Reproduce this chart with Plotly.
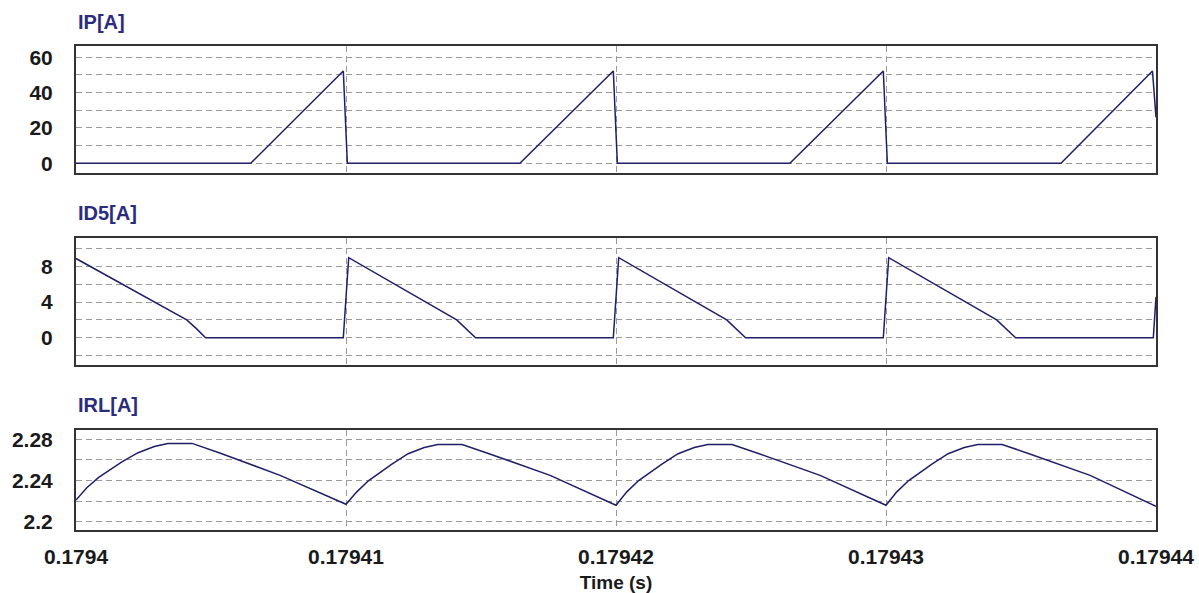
import plotly.graph_objects as go

# ---- waveform data (time in s, current in A) ----
ip_t = [0.1794, 0.17940647, 0.17940990, 0.17941005,
        0.17941644, 0.17941990, 0.17942005,
        0.17942644, 0.17942990, 0.17943005,
        0.17943648, 0.17943987, 0.17944]
ip_a = [0, 0, 52.3, 0,
        0, 52.3, 0,
        0, 52.3, 0,
        0, 52.2, 26]

id5_t = [0.1794, 0.1794041, 0.17940445, 0.1794048, 0.1794099,
         0.1794101, 0.1794141, 0.17941445, 0.1794148, 0.1794199,
         0.1794201, 0.1794241, 0.17942445, 0.1794248, 0.1794299,
         0.1794301, 0.1794341, 0.17943445, 0.1794348, 0.1794399, 0.17944]
id5_a = [8.9, 2.0, 1.05, 0, 0,
         9.0, 2.0, 1.05, 0, 0,
         9.0, 2.0, 1.05, 0, 0,
         9.0, 2.0, 1.05, 0, 0, 4.6]

irl_t = [0.1794, 0.1794004, 0.17940084, 0.1794013, 0.1794017, 0.1794023,
         0.1794029, 0.1794034, 0.1794043, 0.1794053, 0.17940756, 0.179410,
         0.1794104, 0.17941084, 0.1794113, 0.1794117, 0.1794123,
         0.1794129, 0.1794134, 0.1794143, 0.1794153, 0.17941756, 0.179420,
         0.1794204, 0.17942084, 0.1794213, 0.1794217, 0.1794223,
         0.1794229, 0.1794234, 0.1794243, 0.1794253, 0.17942756, 0.179430,
         0.1794304, 0.17943084, 0.1794313, 0.1794317, 0.1794323,
         0.1794329, 0.1794334, 0.1794343, 0.1794353, 0.17943756, 0.17944]
irl_a = [2.221, 2.233, 2.243, 2.251, 2.258, 2.267,
         2.273, 2.276, 2.276, 2.267, 2.245, 2.217,
         2.229, 2.240, 2.249, 2.256, 2.266,
         2.272, 2.275, 2.275, 2.266, 2.245, 2.216,
         2.229, 2.240, 2.249, 2.256, 2.266,
         2.272, 2.275, 2.275, 2.266, 2.245, 2.216,
         2.229, 2.240, 2.249, 2.256, 2.266,
         2.272, 2.275, 2.275, 2.266, 2.245, 2.215]

x_ticks = [0.1794, 0.17941, 0.17942, 0.17943, 0.17944]
x_labels = ["0.1794", "0.17941", "0.17942", "0.17943", "0.17944"]

panel_titles = ["IP[A]", "ID5[A]", "IRL[A]"]

W, H = 1199, 593
LINE = "#1f1f6a"
TITLE = "#2c2c7c"
FONT = "Liberation Sans, Arial, sans-serif"

def px_x(p):
    return p / W

def px_y(p):
    return 1 - p / H

fig = go.Figure()
series = [(ip_t, ip_a), (id5_t, id5_a), (irl_t, irl_a)]
for i, (t, a) in enumerate(series, start=1):
    fig.add_trace(go.Scatter(x=t, y=a, mode="lines",
                             line=dict(color=LINE, width=1.5),
                             xaxis="x" if i == 1 else f"x{i}",
                             yaxis="y" if i == 1 else f"y{i}",
                             showlegend=False, hoverinfo="skip"))

# panel boxes in pixels (top, bottom)
boxes = [(46, 173), (237.7, 365), (430, 530)]
yranges = [[-5.5, 66.4], [-3.07, 11.24], [2.192, 2.289]]
ydticks = [20, 4, 0.04]
yminor = [10, 2, 0.02]
ytick0 = [0, 0, 2.2]

grid = dict(gridcolor="#9a9a9a", gridwidth=1, griddash="6px,4px")
xdom = [px_x(76), px_x(1156)]
tickfont = dict(family=FONT, size=21, weight="bold", color="#1a1a1a")

layout = dict(
    width=W, height=H, margin=dict(l=0, r=0, t=0, b=0),
    paper_bgcolor="white", plot_bgcolor="white",
    font=dict(family=FONT, size=20, color="#1a1a1a"),
)

for i in range(3):
    top, bot = boxes[i]
    xa = "xaxis" if i == 0 else f"xaxis{i+1}"
    ya = "yaxis" if i == 0 else f"yaxis{i+1}"
    anchor_y = "y" if i == 0 else f"y{i+1}"
    anchor_x = "x" if i == 0 else f"x{i+1}"
    xcfg = dict(domain=xdom, anchor=anchor_y, range=[0.1794, 0.17944],
                tickmode="array", tickvals=x_ticks, ticktext=x_labels,
                showticklabels=(i == 2), ticks="", ticklabelstandoff=7,
                automargin=False,
                showgrid=True, **grid,
                showline=True, mirror=True, linecolor="#333333", linewidth=2,
                zeroline=False, tickfont=tickfont)
    if i > 0:
        xcfg["matches"] = "x"
    if i == 2:
        xcfg["title"] = dict(text="Time (s)", standoff=10,
                             font=dict(family=FONT, size=19, weight="bold", color="#1a1a1a"))
    layout[xa] = xcfg
    layout[ya] = dict(domain=[px_y(bot), px_y(top)], anchor=anchor_x,
                      range=yranges[i], tick0=ytick0[i], dtick=ydticks[i],
                      ticks="", ticklabelstandoff=17, automargin=False,
                      showgrid=True, **grid,
                      minor=dict(dtick=yminor[i], tick0=ytick0[i], showgrid=True,
                                 gridcolor="#9a9a9a", gridwidth=1, griddash="6px,4px"),
                      showline=True, mirror=True, linecolor="#333333", linewidth=2,
                      zeroline=False, tickfont=tickfont)

fig.update_layout(**layout)

title_y = [22, 213, 405]
for txt, yp in zip(panel_titles, title_y):
    fig.add_annotation(text=txt, xref="paper", yref="paper",
                       x=px_x(76), y=px_y(yp), xanchor="left", yanchor="middle",
                       showarrow=False,
                       font=dict(family=FONT, size=20, weight="bold", color=TITLE))

fig.write_html("out.html")
